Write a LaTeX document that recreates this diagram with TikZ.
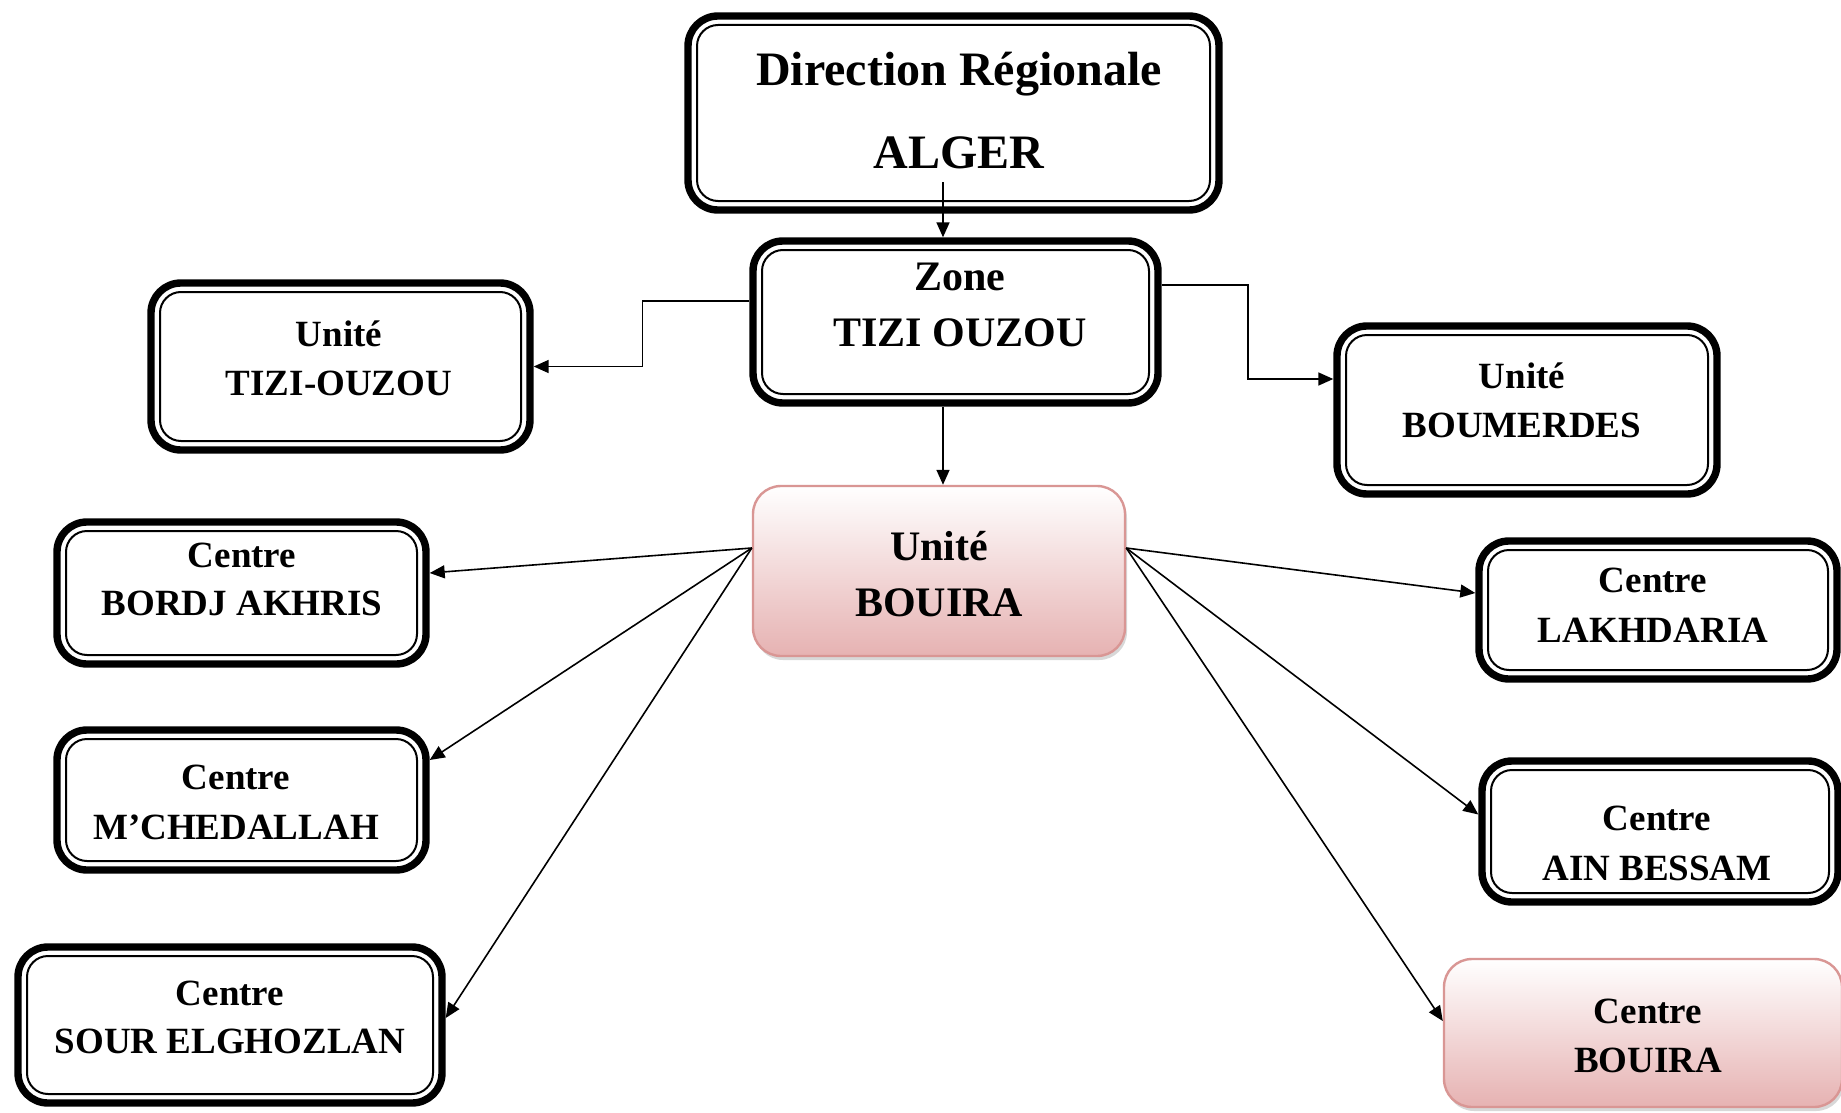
\documentclass[tikz,border=0pt]{standalone}
\usepackage{fontspec}
\setmainfont{Liberation Serif}
\usetikzlibrary{arrows.meta,fit,shadows,calc}
\definecolor{pinkline}{RGB}{217,150,148}
\definecolor{pinkfill}{RGB}{230,178,178}
\tikzset{
  outerbox/.style={draw=black, line width=3.7pt, rounded corners=15pt, inner sep=0pt, outer sep=1.85pt},
  innerline/.style={draw=black, line width=1pt, rounded corners=10.5pt},
  pinkbox/.style={draw=pinkline, line width=1.2pt, rounded corners=14pt, top color=white, bottom color=pinkfill, inner sep=0pt,
    drop shadow={opacity=0.3, shadow xshift=1pt, shadow yshift=-2pt}},
  lbl/.style 2 args={font=\bfseries\fontsize{#1}{#2}\selectfont, align=center, inner sep=0pt},
  conn/.style={draw=black, line width=0.8pt},
  arr/.style={conn, -{Triangle[length=7.5pt,width=6.5pt]}},
}
\newcommand\dblbox[5]{%
  \node[outerbox, fit={(#2,#3) (#4,#5)}] (#1) {};
  \draw[innerline] ([shift={(6.35pt,-6.35pt)}]#1.north west) rectangle ([shift={(-6.35pt,6.35pt)}]#1.south east);
}
\begin{document}
\begin{tikzpicture}[x=0.5pt, y=-0.5pt]
\useasboundingbox (0,0) rectangle (1841,1113);
\clip (0,0) rectangle (1841,1113);
\fill[white] (0,0) rectangle (1841,1113);

% boxes
\dblbox{dr}{688}{16}{1219}{210}
\dblbox{zone}{753}{241}{1158}{403}
\dblbox{ut}{151}{283}{530}{450}
\dblbox{ubm}{1337}{326}{1717}{494}
\node[pinkbox, fit={(753,486) (1125,656)}] (ub) {};
\dblbox{cb}{57}{522}{426}{664}
\dblbox{cm}{57}{730}{426}{870}
\dblbox{cs}{18}{947}{442}{1103}
\dblbox{cl}{1479}{541}{1837}{679}
\dblbox{ca}{1482}{761}{1838}{902}
\node[pinkbox, fit={(1444,959) (1842,1107)}] (cbo) {};

% texts
\node[lbl={24}{41.5}] (t1) at (959,111) {Direction Régionale\\ALGER};
\node[lbl={21}{28}] (t2) at (960,305) {Zone\\TIZI OUZOU};
\node[lbl={18.5}{24.5}] (t3) at (339,358) {Unité\\TIZI-OUZOU};
\node[lbl={18.5}{24.5}] (t4) at (1522,400) {Unité\\BOUMERDES};
\node[lbl={21}{28}] (t5) at (939,574) {Unité\\BOUIRA};
\node[lbl={18.5}{24}] (t6) at (242,579) {Centre\\BORDJ AKHRIS};
\node[lbl={18.5}{25}] (t7) at (236,802) {Centre\\M’CHEDALLAH};
\node[lbl={18.5}{24}] (t8) at (230,1017) {Centre\\SOUR ELGHOZLAN};
\node[lbl={18.5}{25}] (t9) at (1653,605) {Centre\\LAKHDARIA};
\node[lbl={18.5}{25}] (t10) at (1657,843) {Centre\\AIN BESSAM};
\node[lbl={18.5}{24.5}] (t11) at (1648,1036) {Centre\\BOUIRA};

% connectors
\coordinate (a1) at (943,182);
\draw[arr] (a1) -- (a1 |- zone.north);
\draw[arr] (a1 |- zone.south) -- (a1 |- ub.north);
\draw[arr] ([yshift=10.5pt]zone.west) -- ++(-107,0) |- (ut.east);
\draw[arr] ([yshift=18.5pt]zone.east) -- ++(86,0) |- ([yshift=15.5pt]ubm.west);

\coordinate (ul) at ([yshift=11.5pt]ub.west);
\coordinate (ur) at ([yshift=11.5pt]ub.east);
\draw[arr] (ul) -- ([yshift=10pt]cb.east);
\draw[arr] (ul) -- ([yshift=20pt]cm.east);
\draw[arr] (ul) -- ([yshift=3.5pt]cs.east);
\draw[arr] (ur) -- ([yshift=8.5pt]cl.west);
\draw[arr] (ur) -- ([yshift=8.5pt]ca.west);
\draw[arr] (ur) -- ([yshift=6pt]cbo.west);
\end{tikzpicture}
\end{document}
